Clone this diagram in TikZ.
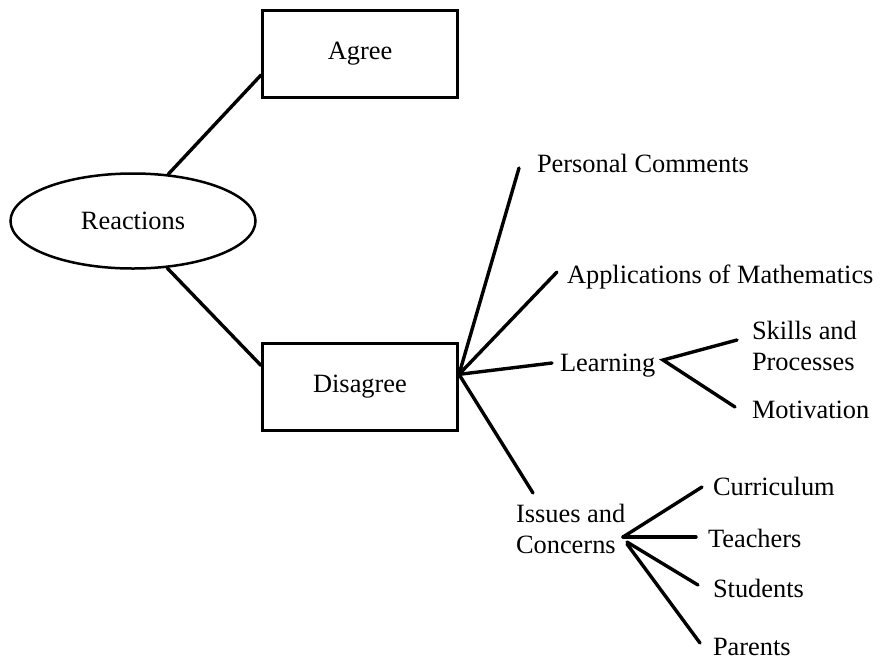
\documentclass[tikz,border=0pt]{standalone}
\usepackage{fontspec}
\setmainfont{Liberation Serif}
\usetikzlibrary{shapes.geometric}
\begin{document}
\begin{tikzpicture}[x=1pt,y=-1pt,
  txt/.style={font=\fontsize{26.4}{31}\selectfont},
  lbl/.style={txt, inner sep=0pt, outer sep=0pt, anchor=base west},
  lbltwo/.style={txt, inner sep=0pt, outer sep=0pt, anchor=west, align=left},
  catbox/.style={txt, draw, line width=3pt, inner sep=0pt, minimum width=195pt, minimum height=87pt},
  oval/.style={txt, draw, ellipse, line width=2.5pt, inner sep=0pt, minimum width=245pt, minimum height=95pt},
  link/.style={line width=3.4pt, line cap=round}]
\useasboundingbox (0,0) rectangle (880,662);

% main categories
\node[oval] (react) at (133,221) {Reactions};
\node[catbox] (agree) at (360,54) {Agree};
\node[catbox] (disagree) at (360,386.5) {Disagree};

\draw[link] (react.53) -- (agree.192);
\draw[link] (react.-54) -- (disagree.168);

% branches of Disagree
\coordinate (hub) at (disagree.7);
\coordinate (pcEnd) at (519,168);
\coordinate (apEnd) at (557,272);
\coordinate (leEnd) at (552,363);
\coordinate (isEnd) at (533,493);

\node[lbl] (pc) at (537,172) {Personal Comments};
\node[lbl] (ap) at (567,283) {Applications of Mathematics};
\node[lbl] (le) at (560,371) {Learning};
\node[lbltwo] (is) at (516,529) {Issues and\\Concerns};

\draw[link] (hub) -- (pcEnd);
\draw[link] (hub) -- (apEnd);
\draw[link] (hub) -- (leEnd);
\draw[link] (hub) -- (isEnd);

% Learning subtopics
\coordinate (leFork) at (663,360);
\coordinate (skEnd) at (737,340);
\coordinate (moEnd) at (735,407);
\node[lbltwo] (sk) at (752,345.5) {Skills and\\Processes};
\node[lbl] (mo) at (752,418) {Motivation};
\draw[link] (skEnd) -- (leFork) -- (moEnd);

% Issues and Concerns subtopics
\coordinate (isFork) at (623,537);
\coordinate (cuEnd) at (702,487);
\coordinate (teEnd) at (696,537);
\coordinate (stStart) at (627,542);
\coordinate (stEnd) at (698,585);
\coordinate (paStart) at (627,544);
\coordinate (paEnd) at (700,643);
\node[lbl] (cu) at (713,495) {Curriculum};
\node[lbl] (te) at (708,547) {Teachers};
\node[lbl] (st) at (713,597) {Students};
\node[lbl] (pa) at (713,655) {Parents};
\draw[link] (isFork) -- (cuEnd);
\draw[link] (isFork) -- (teEnd);
\draw[link] (stStart) -- (stEnd);
\draw[link] (paStart) -- (paEnd);
\end{tikzpicture}
\end{document}
